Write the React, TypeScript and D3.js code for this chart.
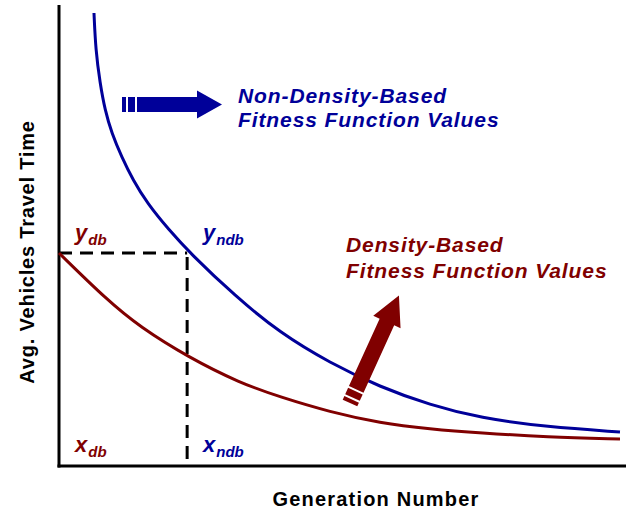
import React from 'react';
import * as d3 from 'd3';

// generation (0..100) vs travel time (0..100)
const nonDensityGen = [6.17, 6.47, 7.23, 8.11, 9.29, 11.06, 13.05, 15.52, 19.4, 23.1, 31.04, 38.98, 47.8, 56.61, 65.43, 74.25, 86.07, 98.94];
const nonDensityVal = [98.26, 90.24, 83.08, 77.22, 72.23, 67.03, 62.04, 57.05, 51.19, 46.2, 36.88, 28.85, 22.34, 17.14, 13.23, 10.41, 8.46, 7.38];

const densityGen = [0, 8.47, 14.29, 22.75, 31.92, 38.98, 47.8, 56.61, 65.43, 74.25, 86.07, 98.94];
const densityVal = [46.2, 36.01, 30.15, 23.64, 18.0, 14.97, 11.71, 9.33, 8.03, 7.16, 6.29, 5.86];

// marker where the non-density curve reaches the density start value
const markerGen = 22.6;
const markerVal = 46.2;

const width = 629;
const height = 512;
const BLUE = '#000099';
const RED = '#800000';
const FONT = '"Liberation Sans", Arial, sans-serif';

const x = d3.scaleLinear().domain([0, 100]).range([59, 626]);
const y = d3.scaleLinear().domain([0, 100]).range([466, 5]);

const line = d3.line<[number, number]>()
  .x(d => x(d[0]))
  .y(d => y(d[1]))
  .curve(d3.curveBasis);

const zip = (a: number[], b: number[]) => a.map((v, i) => [v, b[i]] as [number, number]);

// block arrow pointing along +x, starting at 0 with total length len
const Arrow: React.FC<{ len: number; head: number; headW: number; body: number; fill: string; transform: string }> = ({ len, head, headW, body, fill, transform }) => {
  const bodyStart = 15;
  const shaft = `M${bodyStart},${-body / 2}L${len - head},${-body / 2}L${len - head},${-headW / 2}L${len},0L${len - head},${headW / 2}L${len - head},${body / 2}L${bodyStart},${body / 2}Z`;
  return (
    <g transform={transform} fill={fill}>
      <rect x={0} y={-body / 2} width={4} height={body} />
      <rect x={6} y={-body / 2} width={7} height={body} />
      <path d={shaft} />
    </g>
  );
};

const Sub: React.FC<{ px: number; py: number; main: string; sub: string; color: string }> = ({ px, py, main, sub, color }) => (
  <text x={px} y={py} fill={color} fontFamily={FONT} fontWeight="bold" fontStyle="italic" fontSize={22}>
    {main}
    <tspan fontSize={15} dy={5} dx={1}>{sub}</tspan>
  </text>
);

export default function App() {
  const mx = x(markerGen);
  const my = y(markerVal);
  const labelStyle = { letterSpacing: '0.9px' };

  return (
    <svg width={width} height={height} style={{ position: 'absolute', left: 0, top: 0, background: '#fff' }}>
      {/* axes */}
      <line x1={x(0)} y1={y(100)} x2={x(0)} y2={y(0) + 1.5} stroke="#000" strokeWidth={3} />
      <line x1={x(0) - 1.5} y1={y(0)} x2={x(100)} y2={y(0)} stroke="#000" strokeWidth={3} />

      {/* dashed guides */}
      <path d={`M${x(0)},${my}H${mx}`} stroke="#000" strokeWidth={3} strokeDasharray="13,8" fill="none" />
      <path d={`M${mx},${my}V${y(0)}`} stroke="#000" strokeWidth={3} strokeDasharray="13,8" strokeDashoffset={-4} fill="none" />

      {/* curves */}
      <path d={line(zip(densityGen, densityVal)) || ''} stroke={RED} strokeWidth={3} fill="none" />
      <path d={line(zip(nonDensityGen, nonDensityVal)) || ''} stroke={BLUE} strokeWidth={3} fill="none" />

      {/* arrows */}
      <Arrow len={100} head={25} headW={28} body={15} fill={BLUE} transform="translate(122,104.5)" />
      <Arrow len={118} head={29} headW={30} body={16} fill={RED} transform="translate(350,403) rotate(-65.5)" />

      {/* curve labels */}
      <text fill={BLUE} fontFamily={FONT} fontWeight="bold" fontStyle="italic" fontSize={21} style={labelStyle}>
        <tspan x={238} y={103}>Non-Density-Based</tspan>
        <tspan x={238} y={127}>Fitness Function Values</tspan>
      </text>
      <text fill={RED} fontFamily={FONT} fontWeight="bold" fontStyle="italic" fontSize={21} style={labelStyle}>
        <tspan x={346} y={252}>Density-Based</tspan>
        <tspan x={346} y={278}>Fitness Function Values</tspan>
      </text>

      {/* marker labels */}
      <Sub px={75} py={240} main="y" sub="db" color={RED} />
      <Sub px={203} py={240} main="y" sub="ndb" color={BLUE} />
      <Sub px={75} py={452} main="x" sub="db" color={RED} />
      <Sub px={203} py={452} main="x" sub="ndb" color={BLUE} />

      {/* axis titles */}
      <text x={376} y={506} textAnchor="middle" fontFamily={FONT} fontWeight="bold" fontSize={20} style={{ letterSpacing: '1.2px' }}>Generation Number</text>
      <text transform="translate(34,252) rotate(-90)" textAnchor="middle" fontFamily={FONT} fontWeight="bold" fontSize={20} style={{ letterSpacing: '0.8px' }}>Avg. Vehicles Travel Time</text>
    </svg>
  );
}
